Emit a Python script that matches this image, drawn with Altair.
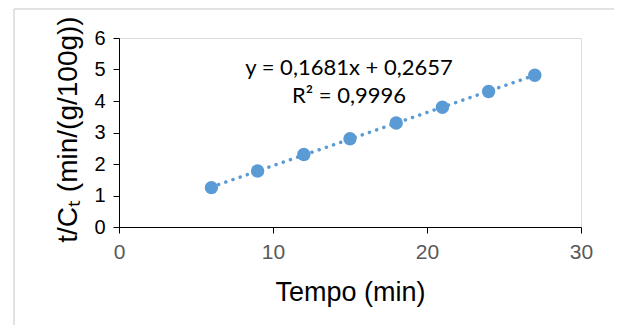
import altair as alt
import pandas as pd

tempo = [6, 9, 12, 15, 18, 21, 24, 27]
t_ct = [1.25, 1.78, 2.30, 2.80, 3.30, 3.80, 4.30, 4.82]
eq_lines = ["y = 0,1681x + 0,2657", "R² = 0,9996"]
x_ticks = [0, 10, 20, 30]
y_ticks = [0, 1, 2, 3, 4, 5, 6]

df = pd.DataFrame({"x": tempo, "y": t_ct})

BLUE = "#5b9bd5"
W, H = 462, 189

xs = alt.Scale(domain=[0, 30], nice=False)
ys = alt.Scale(domain=[0, 6], nice=False)

xaxis = alt.Axis(values=x_ticks, title="Tempo (min)", grid=False, labelFlush=False,
                 domainColor="black", tickColor="black", tickSize=6,
                 labelFont="Liberation Sans", labelFontSize=21, labelColor="#595959",
                 labelPadding=8, titleFont="Liberation Sans", titleFontSize=27,
                 titleFontWeight="normal", titleColor="black",
                 titleY=73, titleBaseline="alphabetic")
yaxis = alt.Axis(values=y_ticks, title="t/Cₜ (min/(g/100g))", grid=False, labelFlush=False,
                 domainColor="black", tickColor="black", tickSize=6,
                 labelFont="Liberation Sans", labelFontSize=20, labelColor="black",
                 labelPadding=8, titleFont="Liberation Sans", titleFontSize=28,
                 titleFontWeight="normal", titleColor="black",
                 titleX=-51, titleY=91, titleAngle=270, titleAlign="center",
                 titleBaseline="middle")

trend = alt.Chart(df).transform_regression("x", "y", method="linear", extent=[6, 27]).mark_line(
    color=BLUE, strokeWidth=3.5, strokeDash=[0.1, 7.5], strokeCap="round"
).encode(x=alt.X("x:Q", scale=xs, axis=xaxis), y=alt.Y("y:Q", scale=ys, axis=yaxis))

pts = alt.Chart(df).mark_circle(color=BLUE, size=180, opacity=1).encode(
    x=alt.X("x:Q", scale=xs, axis=xaxis), y=alt.Y("y:Q", scale=ys, axis=yaxis))

ann = pd.DataFrame({"t": [eq_lines[0]]})
ann2 = pd.DataFrame({"t": [eq_lines[1]]})

text1 = alt.Chart(ann).mark_text(font="Lato", fontSize=22, fontWeight="normal", fill="black",
                                 align="center", baseline="alphabetic").encode(
    text="t:N", x=alt.value(230), y=alt.value(37))
text2 = alt.Chart(ann2).mark_text(font="Lato", fontSize=22, fontWeight="normal", fill="black",
                                  align="center", baseline="alphabetic").encode(
    text="t:N", x=alt.value(230), y=alt.value(65))

top_border = alt.Chart(ann).mark_rule(color="#d9d9d9", strokeWidth=1.5).encode(
    x=alt.value(-105), x2=alt.value(600), y=alt.value(-29))
left_border = alt.Chart(ann).mark_rule(color="#d9d9d9", strokeWidth=1.5).encode(
    x=alt.value(-105), y=alt.value(-29), y2=alt.value(400))

chart = alt.layer(top_border, left_border, trend, pts, text1, text2).properties(
    width=W, height=H,
    autosize=alt.AutoSizeParams(type="none"),
    padding={"left": 111, "top": 30, "right": 33, "bottom": 98},
).configure_view(stroke=None).configure(background="white")

chart.save("out.html", embed_options={"renderer": "svg", "actions": False})
